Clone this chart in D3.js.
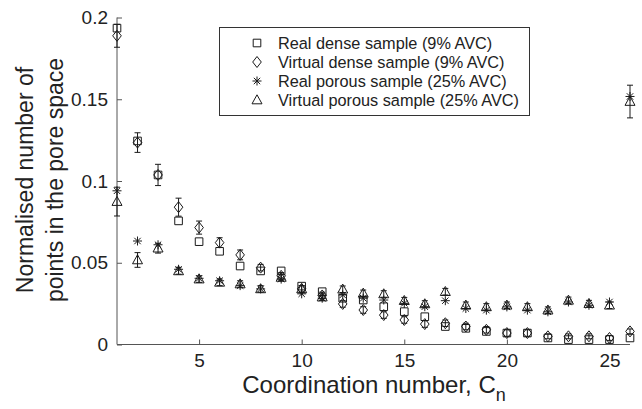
<!DOCTYPE html>
<html>
<head>
<meta charset="utf-8">
<script src="https://cdn.jsdelivr.net/npm/d3@7"></script>
<style>
  body { margin: 0; background: #fff; }
  text { font-family: "Liberation Sans", Arial, sans-serif; fill: #222; }
</style>
</head>
<body>
<div id="chart"></div>
<script>
// coordination numbers 1..26
const coordNumbers = d3.range(1, 27);

const realDense = [0.1935, 0.1245, 0.1037, 0.0756, 0.0629, 0.057, 0.048, 0.045, 0.045, 0.0357,
  0.0323, 0.0283, 0.0272, 0.0231, 0.0201, 0.017, 0.011, 0.0099, 0.008, 0.007,
  0.007, 0.004, 0.003, 0.003, 0.003, 0.004];
const virtualDense = [0.1888, 0.1235, 0.1037, 0.084, 0.0715, 0.0623, 0.0548, 0.047, 0.042, 0.034,
  0.030, 0.0248, 0.0211, 0.018, 0.015, 0.0125, 0.013, 0.011, 0.009, 0.007,
  0.007, 0.005, 0.005, 0.005, 0.004, 0.008];
const virtualDenseErr = [0.007, 0.006, 0.0065, 0.0055, 0.004, 0.003, 0.003, 0.002, 0.002, 0.002,
  0.002, 0.002, 0.002, 0.002, 0.002, 0.002, 0.002, 0.002, 0.002, 0.002,
  0.002, 0.0015, 0.0015, 0.0015, 0.0015, 0.0015];
const realPorous = [0.094, 0.0633, 0.061, 0.046, 0.0405, 0.039, 0.036, 0.034, 0.040, 0.031,
  0.0283, 0.0303, 0.0283, 0.0272, 0.0252, 0.0231, 0.0268, 0.022, 0.021, 0.023,
  0.021, 0.020, 0.026, 0.024, 0.026, 0.1517];
const virtualPorous = [0.0874, 0.0517, 0.0589, 0.045, 0.040, 0.038, 0.037, 0.034, 0.041, 0.034,
  0.029, 0.0338, 0.0313, 0.0309, 0.0268, 0.0248, 0.0323, 0.024, 0.023, 0.024,
  0.023, 0.021, 0.027, 0.025, 0.024, 0.1486];
const virtualPorousErr = [0.0088, 0.0045, 0.003, 0.002, 0.002, 0.002, 0.002, 0.002, 0.002, 0.002,
  0.002, 0.002, 0.002, 0.002, 0.002, 0.002, 0.002, 0.002, 0.002, 0.002,
  0.002, 0.002, 0.002, 0.002, 0.002, 0.01];

const xTicks = [5, 10, 15, 20, 25];
const yTicks = [0, 0.05, 0.1, 0.15, 0.2];
const legendLabels = [
  "Real dense sample (9% AVC)",
  "Virtual dense sample (9% AVC)",
  "Real porous sample (25% AVC)",
  "Virtual porous sample (25% AVC)"
];

const width = 642, height = 409;
const ink = "#1a1a1a";

const svg = d3.select("#chart").append("svg")
  .attr("width", width)
  .attr("height", height);

const x = d3.scaleLinear().domain([1, 26]).range([117, 630]);
const y = d3.scaleLinear().domain([0, 0.2]).range([344.5, 17.5]);

// marker shapes
function markerPath(kind) {
  if (kind === "square") return "M-3.8,-3.8H3.8V3.8H-3.8Z";
  if (kind === "diamond") return "M0,-5.5L4.3,0L0,5.5L-4.3,0Z";
  if (kind === "triangle") return "M0,-5.2L5,3.8H-5Z";
  // asterisk
  return "M0,-4.5V4.5M-4.5,0H4.5M-3.2,-3.2L3.2,3.2M-3.2,3.2L3.2,-3.2";
}

const series = [
  { kind: "square", values: realDense },
  { kind: "diamond", values: virtualDense, err: virtualDenseErr },
  { kind: "asterisk", values: realPorous },
  { kind: "triangle", values: virtualPorous, err: virtualPorousErr }
];

// axes
const yAxis = d3.axisLeft(y).tickValues(yTicks).tickSize(-5).tickPadding(9)
  .tickFormat(d => d === 0 ? "0" : String(+d.toFixed(2)));
const gy = svg.append("g").attr("transform", `translate(${x(1)},0)`).call(yAxis);
gy.select(".domain").attr("stroke", "#555").attr("d", `M0,${y(0)}V${y(0.2)}`);
gy.selectAll(".tick line").attr("stroke", "#555");
gy.selectAll(".tick text").attr("font-size", 19).attr("fill", ink)
  .attr("font-family", "Liberation Sans, Arial, sans-serif");

const xAxis = d3.axisBottom(x).tickValues(xTicks).tickSize(-5).tickPadding(9);
const gx = svg.append("g").attr("transform", `translate(0,${y(0)})`).call(xAxis);
gx.select(".domain").attr("stroke", "#555").attr("d", `M${x(1)},0H${x(26)}`);
gx.selectAll(".tick line").attr("stroke", "#555");
gx.selectAll(".tick text").attr("font-size", 19).attr("fill", ink)
  .attr("font-family", "Liberation Sans, Arial, sans-serif");

// error bars
const capW = 3;
series.filter(s => s.err).forEach(s => {
  const g = svg.append("g").attr("stroke", ink).attr("stroke-width", 1).attr("fill", "none");
  s.values.forEach((v, i) => {
    const cx = x(coordNumbers[i]);
    const y1 = y(v + s.err[i]), y2 = y(v - s.err[i]);
    g.append("path").attr("d", `M${cx},${y1}V${y2}M${cx - capW},${y1}H${cx + capW}M${cx - capW},${y2}H${cx + capW}`);
  });
});

// markers
series.forEach(s => {
  svg.append("g")
    .selectAll("path")
    .data(s.values)
    .enter()
    .append("path")
    .attr("transform", (d, i) => `translate(${x(coordNumbers[i])},${y(d)})`)
    .attr("d", markerPath(s.kind))
    .attr("fill", "none")
    .attr("stroke", ink)
    .attr("stroke-width", 1);
});

// legend
const legend = svg.append("g");
legend.append("rect")
  .attr("x", 219.5).attr("y", 27.5).attr("width", 310).attr("height", 88)
  .attr("fill", "#fff").attr("stroke", "#333");
series.forEach((s, i) => {
  const ly = 43 + i * 19;
  legend.append("path")
    .attr("transform", `translate(257,${ly})`)
    .attr("d", markerPath(s.kind))
    .attr("fill", "none").attr("stroke", ink);
  legend.append("text")
    .attr("x", 278).attr("y", ly + 6)
    .attr("font-size", 16.3)
    .text(legendLabels[i]);
});

// axis titles
const xt = svg.append("text")
  .attr("x", 374).attr("y", 393)
  .attr("text-anchor", "middle")
  .attr("font-size", 24);
xt.append("tspan").text("Coordination number, C");
xt.append("tspan").attr("dy", 8).attr("font-size", 18).text("n");

const yt = svg.append("text")
  .attr("transform", "translate(0,180) rotate(-90)")
  .attr("text-anchor", "middle")
  .attr("font-size", 23);
yt.append("tspan").attr("x", 0).attr("y", 33).text("Normalised number of");
yt.append("tspan").attr("x", 0).attr("y", 63).text("points in the pore space");
</script>
</body>
</html>
